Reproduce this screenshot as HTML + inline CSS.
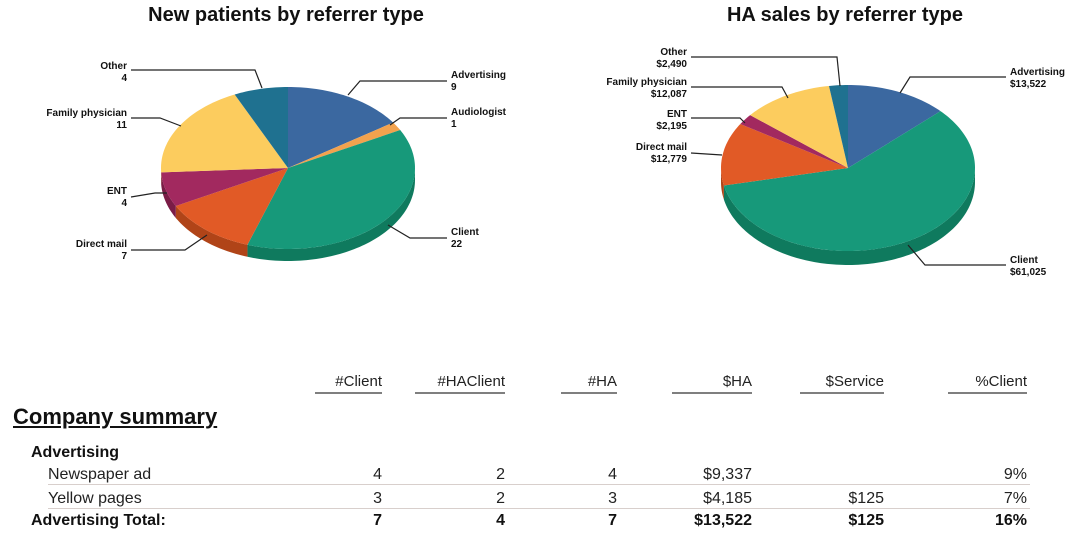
<!DOCTYPE html>
<html><head><meta charset="utf-8"><style>
body{margin:0;background:#fff;width:1068px;height:534px;overflow:hidden;font-family:"Liberation Sans",Arial,sans-serif;}
svg{position:absolute;left:0;top:0}
.t{position:absolute;font-size:15px;color:#222;white-space:nowrap;line-height:1}
.r{text-align:right}
.b{font-weight:bold;color:#111}
</style></head><body>
<svg id="s" width="1068" height="534" xmlns="http://www.w3.org/2000/svg" font-family="Liberation Sans, Arial, sans-serif">
<text x="286" y="21" text-anchor="middle" font-size="20" font-weight="bold" fill="#111">New patients by referrer type</text>
<text x="845" y="21" text-anchor="middle" font-size="20" font-weight="bold" fill="#111">HA sales by referrer type</text>
<g id="p"></g>
<g fill="none" stroke="#222" stroke-width="1.2">
<polyline points="131,70 255,70 262,88"/>
<polyline points="447,81 360,81 348,95"/>
<polyline points="447,118 400,118 390,125"/>
<polyline points="131,118 160,118 181,126"/>
<polyline points="131,197 155,193 167,193"/>
<polyline points="131,250 185,250 207,235"/>
<polyline points="447,238 410,238 388,225"/>
<polyline points="691,57 837,57 840,86"/>
<polyline points="691,87 782,87 788,98"/>
<polyline points="691,118 740,118 745,123"/>
<polyline points="691,153 722,155"/>
<polyline points="1006,77 910,77 900,93"/>
<polyline points="1006,265 925,265 908,245"/>
</g>
<g font-size="10" font-weight="bold" fill="#111">
<g text-anchor="end">
<text x="127" y="69">Other</text><text x="127" y="81">4</text>
<text x="127" y="116">Family physician</text><text x="127" y="128">11</text>
<text x="127" y="194">ENT</text><text x="127" y="206">4</text>
<text x="127" y="247">Direct mail</text><text x="127" y="259">7</text>
<text x="687" y="55">Other</text><text x="687" y="67">$2,490</text>
<text x="687" y="85">Family physician</text><text x="687" y="97">$12,087</text>
<text x="687" y="117">ENT</text><text x="687" y="129">$2,195</text>
<text x="687" y="150">Direct mail</text><text x="687" y="162">$12,779</text>
</g>
<text x="451" y="78">Advertising</text><text x="451" y="90">9</text>
<text x="451" y="115">Audiologist</text><text x="451" y="127">1</text>
<text x="451" y="235">Client</text><text x="451" y="247">22</text>
<text x="1010" y="75">Advertising</text><text x="1010" y="87">$13,522</text>
<text x="1010" y="263">Client</text><text x="1010" y="275">$61,025</text>
</g>
<g stroke="#555" stroke-width="1.5">
<line x1="315" y1="393" x2="382" y2="393"/><line x1="415" y1="393" x2="505" y2="393"/>
<line x1="561" y1="393" x2="617" y2="393"/><line x1="672" y1="393" x2="752" y2="393"/>
<line x1="800" y1="393" x2="884" y2="393"/><line x1="948" y1="393" x2="1027" y2="393"/>
</g>
<g stroke="#d8cfcc" stroke-width="1">
<line x1="48" y1="484.5" x2="1030" y2="484.5"/><line x1="48" y1="508.5" x2="1030" y2="508.5"/>
</g>
</svg>
<div class="t r" style="right:686px;top:374px">#Client</div>
<div class="t r" style="right:563px;top:374px">#HAClient</div>
<div class="t r" style="right:451px;top:374px">#HA</div>
<div class="t r" style="right:316px;top:374px">$HA</div>
<div class="t r" style="right:184px;top:374px">$Service</div>
<div class="t r" style="right:41px;top:374px">%Client</div>
<div class="t b" style="left:13px;top:406px;font-size:22px;text-decoration:underline">Company summary</div>
<div class="t b" style="left:31px;top:445px;font-size:16px">Advertising</div>
<div class="t" style="left:48px;top:467px;font-size:16px">Newspaper ad</div>
<div class="t" style="left:48px;top:491px;font-size:16px">Yellow pages</div>
<div class="t b" style="left:31px;top:513px;font-size:16px">Advertising Total:</div>
<div id="rows"></div>
<script>
var rows=[[467,false,["4","2","4","$9,337","","9%"]],[491,false,["3","2","3","$4,185","$125","7%"]],[513,true,["7","4","7","$13,522","$125","16%"]]];
var rights=[382,505,617,752,884,1027],h="";
rows.forEach(function(r){r[2].forEach(function(v,i){h+='<div class="t r'+(r[1]?' b':'')+'" style="font-size:16px;right:'+(1068-rights[i])+'px;top:'+r[0]+'px">'+v+'</div>';});});
document.getElementById("rows").innerHTML=h;
var C=["#3b68a0","#f2a24e","#17997a","#e15a26","#a2295f","#fccc5e","#1f7190"];
var D=["#2c507c","#c07a30","#0f7a5e","#b04418","#7a1c46","#c9a040","#165670"];
function pie(cx,cy,rx,ry,d,vals){
 var tot=vals.reduce(function(a,b){return a+b},0),a=0,sides="",tops="";
 function P(t,y){return (cx+rx*Math.sin(t)).toFixed(2)+","+((y||cy)-ry*Math.cos(t)).toFixed(2);}
 function arc(t1,t2,y){var s="",n=Math.max(2,Math.ceil((t2-t1)*40));for(var i=0;i<=n;i++){s+=(i?" L":"")+P(t1+(t2-t1)*i/n,y);}return s;}
 vals.forEach(function(v,i){
  if(!v)return;var t1=a,t2=a+v/tot*2*Math.PI;a=t2;
  var s1=Math.max(t1,Math.PI/2),s2=Math.min(t2,1.5*Math.PI);
  if(s2>s1){var bot=arc(s1,s2,cy+d).split(" L").reverse().join(" L");sides+='<path fill="'+D[i]+'" d="M'+arc(s1,s2)+' L'+bot+'Z"/>';}
  tops+='<path fill="'+C[i]+'" d="M'+cx+','+cy+' L'+arc(t1,t2)+'Z"/>';
 });
 return sides+tops;
}
document.getElementById("p").innerHTML=pie(288,168,127,81,12,[9,1,22,7,4,11,4])+pie(848,168,127,83,14,[13522,0,61025,12779,2195,12087,2490]);
</script>
</body></html>
